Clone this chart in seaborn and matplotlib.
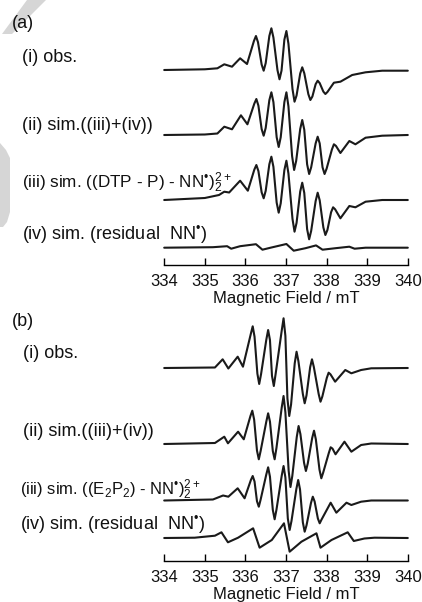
import numpy as np
import pandas as pd
import matplotlib
matplotlib.use("Agg")
import matplotlib.pyplot as plt
from matplotlib.patches import Polygon
import seaborn as sns

# ---------------- data ----------------
# Panel (a): field (mT) and intensity (arb.) for each spectrum
a1_x = [334.00, 335.00, 335.31, 335.48, 335.67, 335.87, 336.04,
        336.21, 336.26, 336.31, 336.40, 336.45, 336.50, 336.59, 336.64, 336.69,
        336.79, 336.84, 336.89, 336.96, 337.01, 337.06, 337.16, 337.21, 337.26,
        337.35, 337.40, 337.45, 337.55, 337.60, 337.65, 337.73, 337.78, 337.83,
        337.92, 337.97, 338.02, 338.18, 338.34, 338.63, 338.96, 339.37, 340.00]
a1_y = [0, 0.7, 1.7, 5.7, 3.3, 11.7, 6,
        29, 34, 27.8, 5.5, -0.7, 6.9, 34.1, 41.7, 32.5,
        -0.1, -9.3, -0.6, 30.3, 39, 26.3, -19, -31.7, -25.5,
        -3.5, 2.7, -3.2, -24.1, -30, -26.5, -14.2, -10.7, -13.1,
        -21.6, -24, -22, -12.7, -11.7, -5, -2.3, -0.7, -0.7]

a2_x = [334.00, 335.00, 335.31, 335.48, 335.67, 335.89, 336.05,
        336.22, 336.27, 336.32, 336.40, 336.45, 336.50, 336.59, 336.64, 336.69,
        336.77, 336.82, 336.87, 336.96, 337.01, 337.06, 337.15, 337.20, 337.25,
        337.35, 337.40, 337.45, 337.52, 337.57, 337.62, 337.73, 337.78, 337.83,
        337.90, 337.95, 338.00, 338.13, 338.18, 338.23, 338.34, 338.56, 338.71,
        338.96, 339.37, 340.00]
a2_y = [0, 0.5, 1.5, 8.3, 5.7, 19.7, 10.7,
        31.4, 36, 29.4, 5.9, -0.7, 7.1, 34.9, 42.7, 32.9,
        -2.2, -12, -2.2, 32.9, 42.7, 28.7, -21, -35, -26,
        6, 15, 5.3, -29.3, -39, -32.3, -8.4, -1.7, -8.4,
        -32.3, -39, -33.7, -14.6, -9.3, -10.9, -18, -6, -9.3,
        -2.7, -0.7, 0]

a3_x = [334.00, 335.00, 335.35, 335.48, 335.60, 335.87, 336.06,
        336.22, 336.27, 336.32, 336.40, 336.45, 336.50, 336.59, 336.64, 336.69,
        336.77, 336.82, 336.87, 336.96, 337.01, 337.06, 337.16, 337.21, 337.26,
        337.35, 337.40, 337.45, 337.52, 337.57, 337.62, 337.73, 337.78, 337.83,
        337.92, 337.97, 338.02, 338.11, 338.16, 338.21, 338.34, 338.56, 338.71,
        338.96, 339.37, 340.00]
a3_y = [0, 2, 5, 8.3, 7.5, 19.3, 9.3,
        30.4, 35, 29, 7.7, 1.7, 9.2, 35.8, 43.3, 33.2,
        -2.6, -12.7, -3.3, 29.9, 39.3, 26.5, -18.9, -31.7, -22.9,
        8.5, 17.3, 7.1, -29.1, -39.3, -30.9, -1.1, 7.3, -0.3,
        -27.4, -35, -30, -12.3, -7.3, -9.3, -18.3, -6, -7.3,
        -1.7, 0, 0]

a4_x = [334.00, 335.20, 335.55, 335.65, 335.87, 336.26, 336.42, 336.62, 337.01, 337.19, 337.48, 337.74,
        337.90, 338.22, 338.56, 338.69, 338.96, 340.00]
a4_y = [0, 0.5, 1.5, -1, 1.5, 3.5, -2, 0, 3.7, -3, -0.5, 2.3,
        -2, -0.5, 1, -1, 0, 0]

# Panel (b)
b1_x = [334.00, 335.25, 335.44, 335.58, 335.81, 335.94,
        336.135, 336.18, 336.225, 336.295, 336.34, 336.385, 336.515, 336.56, 336.605,
        336.655, 336.70, 336.745, 336.895, 336.94, 336.985, 337.035, 337.08, 337.125,
        337.215, 337.26, 337.305, 337.415, 337.46, 337.505, 337.595, 337.64, 337.685,
        337.805, 337.85, 337.895, 338.005, 338.05, 338.095, 338.21, 338.46, 338.61,
        338.85, 339.10, 340.00]
b1_y = [0, 0.5, 8.7, -0.5, 11.3, 1.3,
        34.4, 41.7, 31.3, -5.6, -16, -6.3, 28.3, 38, 27.9,
        -7.9, -18, -5.8, 37.5, 49.7, 32.1, -30.4, -48, -36.4,
        4.7, 16.3, 7, -26, -35.3, -27.4, 0.8, 8.7, 1.1,
        -26.1, -33.7, -28.5, -9.9, -4.7, -6.3, -13.7, -2, -5.3,
        -2, -0.3, 0]

b2_x = [334.00, 335.25, 335.48, 335.57, 335.82, 335.96,
        336.125, 336.17, 336.215, 336.285, 336.33, 336.375, 336.515, 336.56, 336.605,
        336.675, 336.72, 336.765, 336.895, 336.94, 336.985, 337.065, 337.11, 337.155,
        337.265, 337.31, 337.355, 337.445, 337.49, 337.535, 337.645, 337.69, 337.735,
        337.825, 337.87, 337.915, 338.055, 338.10, 338.145, 338.22, 338.44, 338.61,
        338.85, 339.10, 340.00]
b2_y = [0, 1, 7.3, 0.7, 12.3, 4.7,
        28.1, 33.3, 24.5, -6.5, -15.3, -7, 22.4, 30.7, 22.4,
        -7, -15.3, -3.9, 36.6, 48, 31.6, -26.6, -43, -32,
        7, 18, 9.9, -18.9, -27, -19.7, 6, 13.3, 4.7,
        -25.7, -34.3, -28.7, -8.9, -3.3, -4.6, -10.3, 2.3, -7.7,
        -1, 0.5, 0]

b3_x = [334.00, 335.20, 335.45, 335.58, 335.81, 335.98,
        336.135, 336.18, 336.225, 336.285, 336.33, 336.375, 336.515, 336.56, 336.605,
        336.675, 336.72, 336.765, 336.895, 336.94, 336.985, 337.045, 337.09, 337.135,
        337.255, 337.30, 337.345, 337.415, 337.46, 337.505, 337.615, 337.66, 337.705,
        337.785, 337.83, 337.875, 338.10, 338.24, 338.49, 338.61, 338.85, 339.10, 340.00]
b3_y = [0, 1, 5, 3.8, 12.2, 2.2,
        20.5, 24.5, 19, -0.7, -6.2, 0.9, 26.1, 33.2, 23.8,
        -9.4, -18.8, -9.2, 24.9, 34.5, 23, -18, -29.5, -20.5,
        11.5, 20.5, 11.2, -21.9, -31.2, -24.9, -2.5, 3.8, -1,
        -18, -22.8, -19.1, -2.2, -12.2, -2.2, -4.5, -1.2, 0, 0]

b4_x = [334.00, 334.75, 335.25, 335.41, 335.57, 335.82, 336.19, 336.35, 336.65, 336.95, 337.09, 337.38,
        337.75, 337.85, 338.12, 338.52, 338.67, 338.93, 339.18, 340.00]
b4_y = [0, 0.3, 2.3, 5.7, -4.3, 0.3, 9.7, -9.7, -2, 14.7, -13.7, -3.7,
        4.7, -9.7, -2, 5.7, -3, -0.5, 0.3, 0]

tick_values = [334, 335, 336, 337, 338, 339, 340]
tick_labels = ["334", "335", "336", "337", "338", "339", "340"]
xlabel = "Magnetic Field / mT"

labels_a = ["(i) obs.", "(ii) sim.((iii)+(iv))",
            r"(iii) sim. ((DTP - P) - NN$^{\mathrm{•}}$)$_2^{2+}$",
            r"(iv) sim. (residual  NN$^{\mathrm{•}}$)"]
labels_b = ["(i) obs.", "(ii) sim.((iii)+(iv))",
            r"(iii) sim. ((E$_2$P$_2$) - NN$^{\mathrm{•}}$)$_2^{2+}$",
            r"(iv) sim. (residual  NN$^{\mathrm{•}}$)"]

# ---------------- style ----------------
sns.set_theme(style="white")
plt.rcParams["font.family"] = ["Liberation Sans", "DejaVu Sans"]
plt.rcParams["mathtext.fontset"] = "custom"
plt.rcParams["mathtext.rm"] = "Liberation Sans"
plt.rcParams["mathtext.it"] = "Liberation Sans:italic"
plt.rcParams["mathtext.bf"] = "Liberation Sans:bold"

W, H = 422, 602
fig = plt.figure(figsize=(W / 100, H / 100), dpi=100)
fig.patch.set_facecolor("white")

def fx(px):
    return px / W

def fy(py):
    return 1 - py / H

# faint watermark shapes at the left edge
wm_col = "#d6d6d6"
fig.patches.append(Polygon([(fx(27), fy(0)), (fx(46), fy(0)), (fx(12), fy(34)), (fx(2), fy(34))],
                           closed=True, transform=fig.transFigure, facecolor=wm_col,
                           edgecolor="none", zorder=0))
fig.patches.append(Polygon([(fx(0), fy(143)), (fx(6), fy(150)), (fx(10), fy(158)), (fx(10), fy(212)),
                            (fx(7), fy(222)), (fx(3), fy(227)), (fx(0), fy(227))],
                           closed=True, transform=fig.transFigure, facecolor=wm_col,
                           edgecolor="none", zorder=0))

line_col = "#1a1a1a"

def make_panel(axis_py, top_py, curves, offsets_py, labels, label_py, label_x, label_fs, tag, tag_py,
               ticklab_py, xlab_py):
    left_px, right_px = 164.2, 407.8
    ax = fig.add_axes([fx(left_px), fy(axis_py), (right_px - left_px) / W, (axis_py - top_py) / H])
    span = axis_py - top_py
    for (xs, ys), base in zip(curves, offsets_py):
        off = axis_py - base
        df = pd.DataFrame({"field": xs, "signal": np.asarray(ys, dtype=float) + off})
        sns.lineplot(data=df, x="field", y="signal", ax=ax, sort=False, estimator=None,
                     color=line_col, linewidth=1.5)
    ax.set_xlim(334, 340)
    ax.set_ylim(0, span)
    for s in ["top", "left", "right"]:
        ax.spines[s].set_visible(False)
    ax.spines["bottom"].set_color("black")
    ax.spines["bottom"].set_linewidth(1.0)
    ax.set_yticks([])
    ax.set_xticks(tick_values)
    ax.set_xticklabels([])
    ax.tick_params(axis="x", direction="in", length=5, width=1.0, color="black", bottom=True)
    ax.set_xlabel("")
    ax.set_ylabel("")
    ax.patch.set_alpha(0)
    for line in ax.lines:
        line.set_clip_on(False)
        line.set_solid_joinstyle("round")
        line.set_solid_capstyle("round")
    for v, t in zip(tick_values, tick_labels):
        fig.text(fx(left_px + (v - 334) * (right_px - left_px) / 6), fy(ticklab_py), t,
                 ha="center", va="center", fontsize=12, color="#111111")
    fig.text(fx(left_px + 3 * (right_px - left_px) / 6), fy(xlab_py), xlabel,
             ha="center", va="center", fontsize=12, color="#111111")
    for lab, py, lx, fs in zip(labels, label_py, label_x, label_fs):
        fig.text(fx(lx), fy(py), lab, ha="left", va="center", fontsize=fs, color="#111111")
    fig.text(fx(12), fy(tag_py), tag, ha="left", va="center", fontsize=13, color="#111111")
    return ax

make_panel(265, 10,
           [(a1_x, a1_y), (a2_x, a2_y), (a3_x, a3_y), (a4_x, a4_y)],
           [70, 135, 200, 247.7],
           labels_a, [57, 125, 183, 235], [22.5, 22.5, 22.5, 22.5], [13, 13, 12.3, 13],
           "(a)", 23, 281, 298)

make_panel(561, 305,
           [(b1_x, b1_y), (b2_x, b2_y), (b3_x, b3_y), (b4_x, b4_y)],
           [368, 444, 500.5, 538],
           labels_b, [353, 431.5, 490, 525], [23, 23, 19.5, 19.5], [13, 13, 12, 13],
           "(b)", 322, 577, 595)

fig.savefig("out.png", dpi=100, facecolor="white")
